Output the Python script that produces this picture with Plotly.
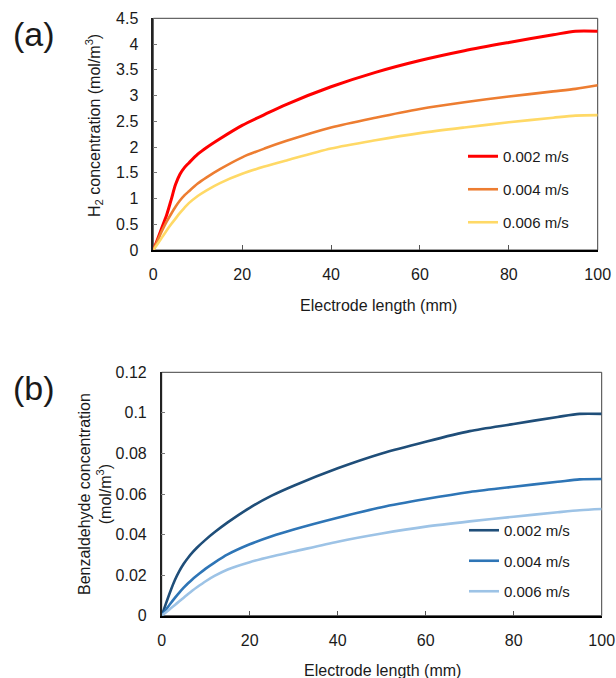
import plotly.graph_objects as go

# ---- data ----
x_len = [0, 1, 2, 3, 4, 5, 6, 7, 8, 10, 12, 15, 20, 25, 30, 40, 50, 60, 70, 80, 90, 95, 100]

h2_002 = [0, 0.22, 0.45, 0.68, 0.97, 1.27, 1.47, 1.60, 1.69, 1.86, 1.99, 2.16, 2.42, 2.63, 2.83, 3.17, 3.45, 3.68, 3.87, 4.03, 4.18, 4.25, 4.25]
h2_004 = [0, 0.19, 0.38, 0.55, 0.70, 0.84, 0.96, 1.06, 1.14, 1.29, 1.41, 1.57, 1.80, 1.97, 2.12, 2.38, 2.57, 2.74, 2.87, 2.98, 3.08, 3.13, 3.20]
h2_006 = [0, 0.12, 0.25, 0.38, 0.50, 0.61, 0.72, 0.82, 0.91, 1.05, 1.16, 1.30, 1.48, 1.62, 1.74, 1.97, 2.13, 2.27, 2.38, 2.48, 2.57, 2.61, 2.62]

bz_002 = [0, 0.0062, 0.0122, 0.0176, 0.0220, 0.0256, 0.0286, 0.0312, 0.0335, 0.0375, 0.0411, 0.0460, 0.0532, 0.0592, 0.0641, 0.0727, 0.080, 0.0858, 0.091, 0.0945, 0.098, 0.0995, 0.0995]
bz_004 = [0, 0.0030, 0.0060, 0.0088, 0.0114, 0.0138, 0.0160, 0.0180, 0.0198, 0.0232, 0.0262, 0.0302, 0.0352, 0.0392, 0.0425, 0.0483, 0.0535, 0.0575, 0.061, 0.0636, 0.066, 0.0672, 0.0674]
bz_006 = [0, 0.0017, 0.0035, 0.0053, 0.0071, 0.0089, 0.0107, 0.0124, 0.0140, 0.0170, 0.0196, 0.0228, 0.0264, 0.0292, 0.0316, 0.0365, 0.0405, 0.0439, 0.0465, 0.0488, 0.051, 0.052, 0.0526]

series_names = ["0.002 m/s", "0.004 m/s", "0.006 m/s"]
colors_a = ["#FF0000", "#ED7D31", "#FFD966"]
colors_b = ["#1F4E79", "#2E75B6", "#9DC3E6"]

x_ticks = [0, 20, 40, 60, 80, 100]
ya_ticks = [0, 0.5, 1, 1.5, 2, 2.5, 3, 3.5, 4, 4.5]
ya_labels = ["0", "0.5", "1", "1.5", "2", "2.5", "3", "3.5", "4", "4.5"]
yb_ticks = [0, 0.02, 0.04, 0.06, 0.08, 0.1, 0.12]
yb_labels = ["0", "0.02", "0.04", "0.06", "0.08", "0.1", "0.12"]

W, H = 616, 678
FONT = "Liberation Sans, Arial, sans-serif"
TXT = "#1a1a1a"

fig = go.Figure()
for i, ys in enumerate([h2_002, h2_004, h2_006]):
    fig.add_trace(go.Scatter(x=x_len, y=ys, mode="lines", name=series_names[i],
                             line=dict(color=colors_a[i], width=3 if i == 0 else 2.6, shape="spline", smoothing=0.8),
                             xaxis="x", yaxis="y", legend="legend", legendgroup="a%d" % i))
for i, ys in enumerate([bz_002, bz_004, bz_006]):
    fig.add_trace(go.Scatter(x=x_len, y=ys, mode="lines", name=series_names[i],
                             line=dict(color=colors_b[i], width=2.6, shape="spline", smoothing=0.8),
                             xaxis="x2", yaxis="y2", legend="legend2", legendgroup="b%d" % i))

def px_x(p):
    return p / W

def px_y(p):
    return 1 - p / H

dom_a_x = [px_x(153.3), px_x(597.7)]
dom_a_y = [px_y(250), px_y(18.3)]
dom_b_x = [px_x(161.7), px_x(601.7)]
dom_b_y = [px_y(615.7), px_y(372.3)]

xax_common = dict(range=[0, 100], tickvals=x_ticks, ticks="inside", ticklen=5, tickwidth=1,
                  tickcolor="#555", showline=True, linecolor="black", linewidth=2,
                  showgrid=False, zeroline=False, ticklabelstandoff=9, automargin=False,
                  tickfont=dict(family=FONT, size=16, color=TXT))
yax_common = dict(ticks="inside", ticklen=4, tickwidth=1, tickcolor="#777", showline=True,
                  linecolor="#222", linewidth=1.5, showgrid=False, automargin=False,
                  zeroline=False, ticklabelstandoff=10, tickfont=dict(family=FONT, size=16, color=TXT))

legend_common = dict(xanchor="left", yanchor="top", bgcolor="rgba(0,0,0,0)",
                     font=dict(family=FONT, size=15, color=TXT), traceorder="grouped")

fig.update_layout(
    width=W, height=H, margin=dict(l=0, r=0, t=0, b=0, autoexpand=False),
    paper_bgcolor="white", plot_bgcolor="white",
    xaxis=dict(domain=dom_a_x, anchor="y", **xax_common),
    yaxis=dict(domain=dom_a_y, anchor="x", range=[0, 4.5], tickvals=ya_ticks, ticktext=ya_labels, **yax_common),
    xaxis2=dict(domain=dom_b_x, anchor="y2", **xax_common),
    yaxis2=dict(domain=dom_b_y, anchor="x2", range=[0, 0.12], tickvals=yb_ticks, ticktext=yb_labels, **yax_common),
    legend=dict(x=px_x(463), y=px_y(140), tracegroupgap=10.5, **legend_common),
    legend2=dict(x=px_x(464), y=px_y(514), tracegroupgap=8, **legend_common),
    showlegend=True,
)

# thin box borders (top/right)
for dx, dy in [(dom_a_x, dom_a_y), (dom_b_x, dom_b_y)]:
    fig.add_shape(type="rect", xref="paper", yref="paper", x0=dx[0], x1=dx[1], y0=dy[0], y1=dy[1],
                  line=dict(color="#404040", width=1), layer="below")

ann = [
    dict(text="(a)", x=px_x(34), y=px_y(34), font=dict(size=34)),
    dict(text="(b)", x=px_x(34), y=px_y(388), font=dict(size=34)),
    dict(text="H<sub>2</sub> concentration (mol/m<sup>3</sup>)", x=px_x(94), y=px_y(126), textangle=-90, font=dict(size=16)),
    dict(text="Electrode length (mm)", x=px_x(378), y=px_y(305), font=dict(size=16)),
    dict(text="Benzaldehyde concentration<br>(mol/m<sup>3</sup>)", x=px_x(95), y=px_y(494), textangle=-90, font=dict(size=16)),
    dict(text="Electrode length (mm)", x=px_x(382), y=px_y(670), font=dict(size=16)),
]
for a in ann:
    f = dict(family=FONT, color=TXT)
    f.update(a.pop("font"))
    fig.add_annotation(xref="paper", yref="paper", showarrow=False, xanchor="center", yanchor="middle",
                       font=f, **a)

fig.write_html("out.html", config={"displayModeBar": False},
               post_script="document.body.style.margin='0';document.body.style.overflow='hidden';")
